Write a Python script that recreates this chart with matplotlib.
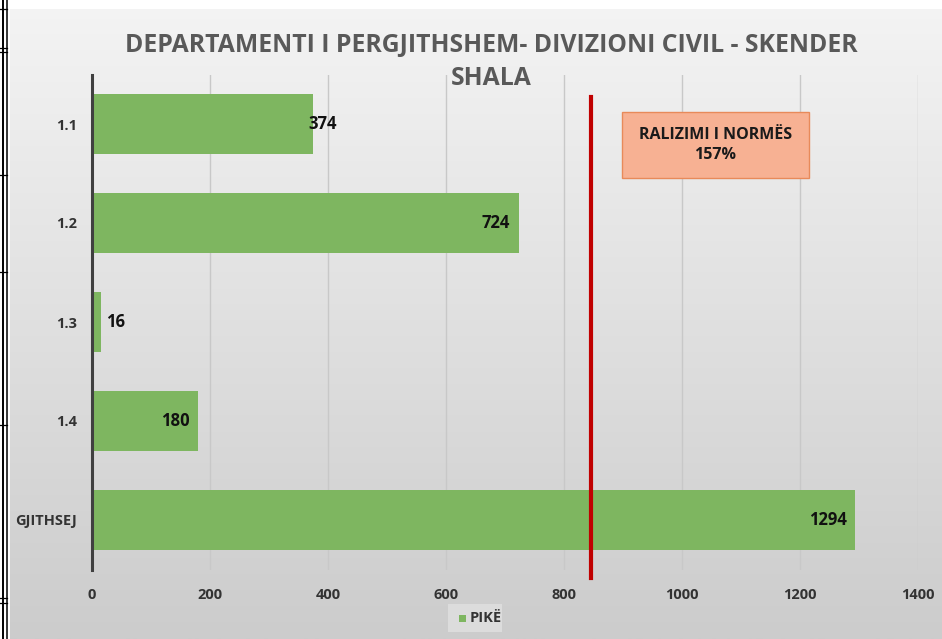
import matplotlib.pyplot as plt
import numpy as np
from matplotlib.patches import Rectangle

categories = ['1.1', '1.2', '1.3', '1.4', 'GJITHSEJ']
values = [374, 724, 16, 180, 1294]
norm_line = 845
series_name = 'PIKË'
title = 'DEPARTAMENTI I PERGJITHSHEM- DIVIZIONI CIVIL - SKENDER\nSHALA'
note = 'RALIZIMI I NORMËS\n157%'
xticks = [0, 200, 400, 600, 800, 1000, 1200, 1400]

FONT = 'Open Sans'
W, H = 942, 639
plt.rcParams['font.family'] = [FONT, 'DejaVu Sans']

fig = plt.figure(figsize=(W / 100, H / 100), dpi=100)
fig.patch.set_facecolor('white')

# gradient background for chart area
bg = fig.add_axes([10 / W, 0, 1 - 10 / W, 1 - 9 / H])
grad = np.linspace(0.955, 0.80, 256).reshape(-1, 1)
bg.imshow(np.dstack([grad, grad, grad]), aspect='auto', extent=[0, 1, 0, 1])
bg.set_axis_off()

# table border fragments at left edge (pixel coords)
strip = fig.add_axes([0, 0, 10 / W, 1])
strip.set_xlim(0, 10)
strip.set_ylim(H, 0)
strip.set_axis_off()
strip.plot([3, 3], [0, H], color='black', lw=1.4)
strip.plot([6.5, 6.5], [0, H], color='black', lw=1.1)
for yy in [9, 48, 52, 175, 272, 425, 598, 603]:
    strip.plot([0, 6.5], [yy, yy], color='black', lw=0.9)

ax = fig.add_axes([92 / W, 1 - 569.5 / H, 826 / W, 495 / H])
ax.set_facecolor('none')
y = np.arange(len(categories))
bars = ax.barh(y, values, height=0.6, color='#7eb660', zorder=3)
ax.set_ylim(len(categories) - 0.5, -0.5)
ax.set_xlim(0, 1400)
ax.set_xticks(xticks)
ax.set_yticks(y)
ax.set_yticklabels(categories)
ax.grid(axis='x', color='#c8c8c8', lw=1.0, zorder=0)
for s in ['top', 'right', 'bottom']:
    ax.spines[s].set_visible(False)
ax.spines['left'].set_color('#404040')
ax.spines['left'].set_linewidth(2.2)
ax.spines['left'].set_zorder(4)
ax.tick_params(axis='y', length=0, pad=11, labelsize=10.5, labelcolor='#333333')
ax.tick_params(axis='x', length=0, pad=13, labelsize=10.5, labelcolor='#333333')
for lab in ax.get_xticklabels() + ax.get_yticklabels():
    lab.set_fontweight('bold')

# data labels
aligns = ['left', 'right', 'left', 'right', 'right']
offsets = [-3, -7, 3, -6, -6]
for rect, v, a, off in zip(bars, values, aligns, offsets):
    ax.annotate(str(v), (v, rect.get_y() + rect.get_height() / 2),
                xytext=(off, 0), textcoords='offset points',
                ha=a, va='center', fontsize=12, fontweight='bold',
                color='#111111', zorder=5)

ax.axvline(norm_line, ymin=-0.017, ymax=0.955, color='#c00000', lw=3,
           clip_on=False, zorder=6)

# note box
box = Rectangle((622 / W, 1 - 178 / H), 187 / W, 66 / H, transform=fig.transFigure,
                facecolor='#f7b193', edgecolor='#e88a5a', lw=1.0, zorder=7)
fig.patches.append(box)
fig.text(715.5 / W, 1 - 145 / H, note, ha='center', va='center', fontsize=11.5,
         fontweight='bold', color='#1a1a1a', linespacing=1.3, zorder=8)

fig.text(491 / W, 1 - 62 / H, title, ha='center', va='center', fontsize=17.8,
         fontweight='bold', color='#595959', linespacing=1.42)

# legend
fig.patches.append(Rectangle((448 / W, 1 - 632 / H), 54 / W, 28 / H,
                             transform=fig.transFigure, facecolor='#dcdcdc',
                             edgecolor='none'))
fig.patches.append(Rectangle((459 / W, 1 - 622 / H), 7 / W, 7 / H,
                             transform=fig.transFigure, facecolor='#7eb660',
                             edgecolor='none'))
fig.text(470 / W, 1 - 618 / H, series_name, ha='left', va='center', fontsize=10.5,
         fontweight='bold', color='#333333')

fig.savefig('out.png', dpi=100)
